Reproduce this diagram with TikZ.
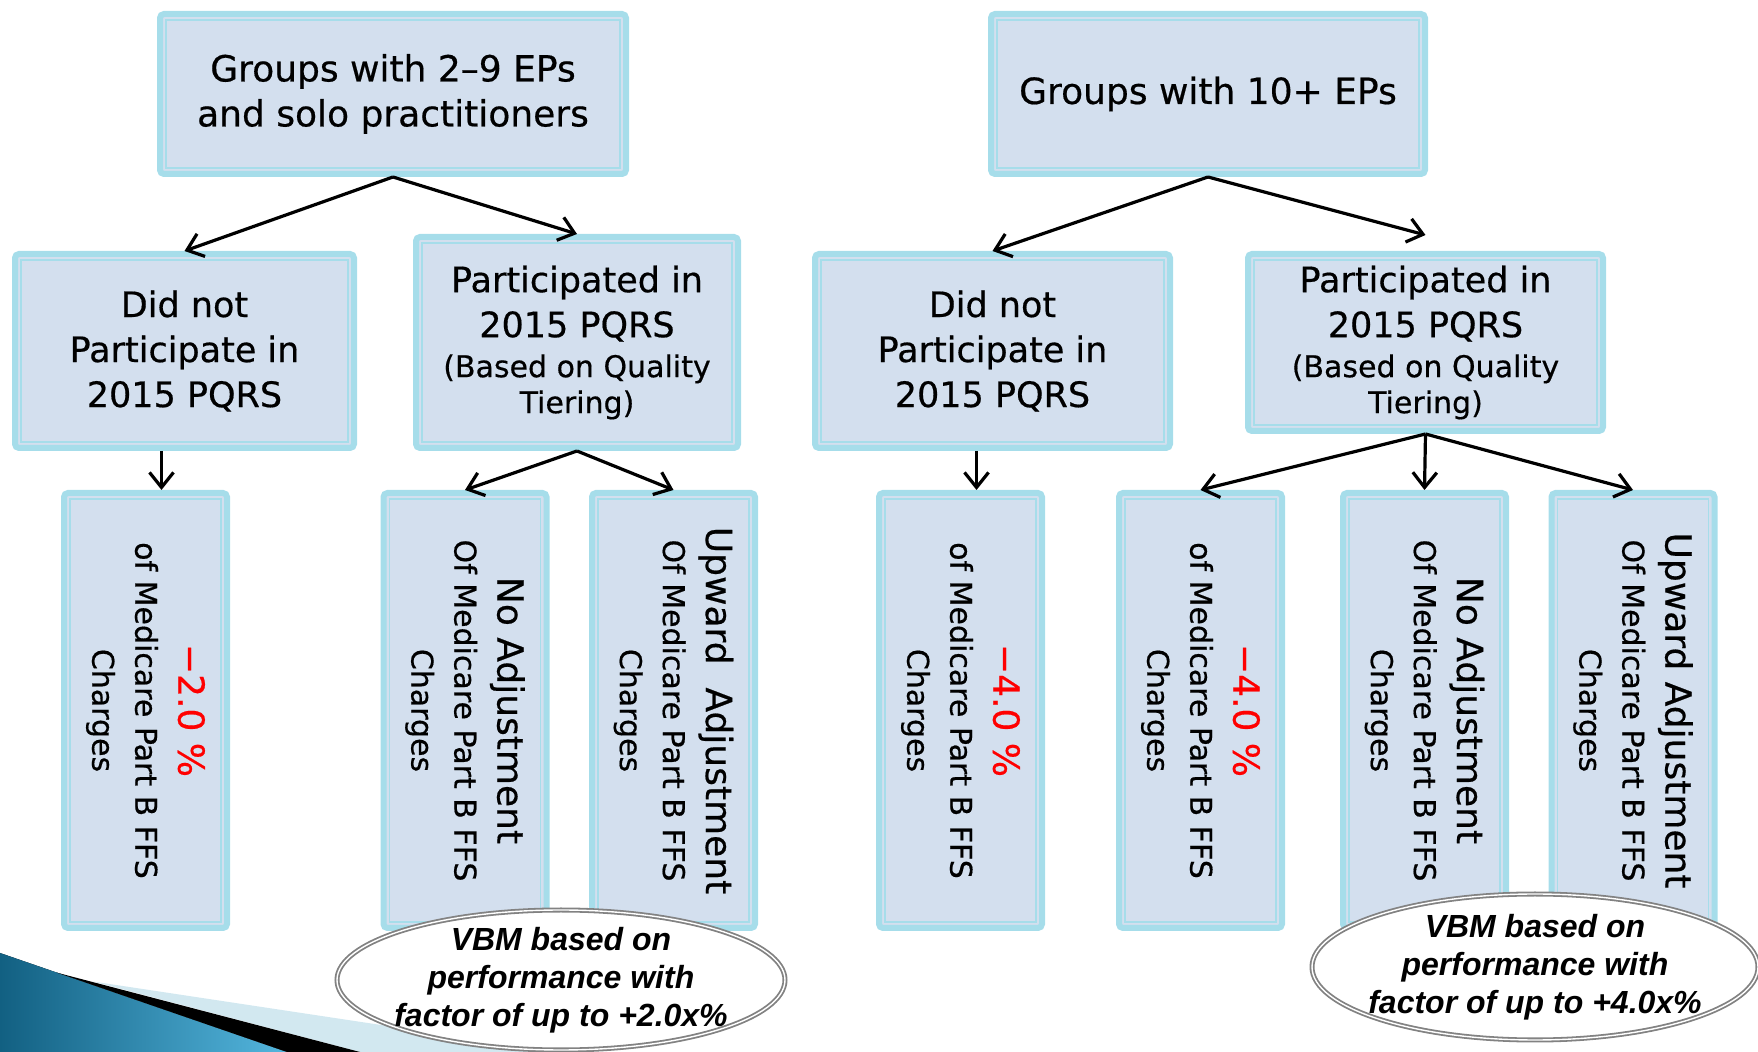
\documentclass[tikz,border=0pt]{standalone}
\usepackage{fontspec}
\setmainfont[FakeBold=0.5]{DejaVu Sans}
\newfontfamily\vbmfont{Liberation Sans}
\usetikzlibrary{arrows.meta,shapes.geometric}

\definecolor{boxedge}{RGB}{166,221,234}
\definecolor{boxfill}{RGB}{211,223,238}
\definecolor{ringgray}{RGB}{130,130,130}
\definecolor{decodark}{RGB}{18,96,130}
\definecolor{decolight}{RGB}{84,182,222}
\definecolor{decopale}{RGB}{210,232,240}
\newcommand\bigline{\fontsize{18}{21.5}\selectfont}
\newcommand\smline{\fontsize{15}{19}\selectfont}

\begin{document}
\begin{tikzpicture}[x=0.5pt,y=-0.5pt,
  box/.style={draw=boxedge, line width=3pt, fill=boxfill, rounded corners=2pt,
    inner sep=0pt, align=center,
    path picture={\draw[boxedge, line width=0.8pt, sharp corners]
      ([shift={(3pt,3pt)}]path picture bounding box.south west) rectangle
      ([shift={(-3pt,-3pt)}]path picture bounding box.north east);}},
  topbox/.style={box, font=\fontsize{18}{22.5}\selectfont},
  midbox/.style={box, font=\fontsize{17.5}{22.5}\selectfont},
  endbox/.style={box, minimum width=81.5pt, minimum height=217.5pt},
  endtext/.style={rotate=-90, align=center, font=\fontsize{15}{21.5}\selectfont},
  vbm/.style={ellipse, draw=ringgray, double=white, double distance=0.7pt,
    line width=0.9pt, fill=white, inner xsep=-12pt, inner ysep=-9pt, align=center,
    font=\vbmfont\bfseries\itshape\fontsize{16}{19}\selectfont},
  arr/.style={-{Straight Barb[length=7.5pt,width=12pt]}, line width=1.6pt}]
  \useasboundingbox (0,0) rectangle (1758,1052);
  % corner decoration
  \fill[left color=decodark, right color=decolight] (0,953) -- (287,1052) -- (0,1052) -- cycle;
  \fill[decopale] (93,981.5) -- (560,1052) -- (360,1052) -- cycle;
  \fill[black] (57,972.7) -- (360,1052) -- (287,1052) -- cycle;

  \node[topbox, minimum width=233pt, minimum height=80pt] (gs) at (393,94)
    {Groups with 2--9 EPs\\and solo practitioners};
  \node[topbox, minimum width=217pt, minimum height=80pt] (gl) at (1208,94)
    {Groups with 10+ EPs};

  \node[midbox, minimum width=169.5pt, minimum height=97pt] (ns) at (184.5,351)
    {Did not\\Participate in\\2015 PQRS};
  \node[midbox, minimum width=161pt, minimum height=105.5pt] (ps) at (577,342.5)
    {Participated in\\2015 PQRS\\[-2.5pt]\smline (Based on Quality\\[-4.5pt]\smline Tiering)};
  \node[midbox, minimum width=177.5pt, minimum height=97pt] (nl) at (992.5,351)
    {Did not\\Participate in\\2015 PQRS};
  \node[midbox, minimum width=177.5pt, minimum height=88.5pt] (pl) at (1425.5,342.5)
    {Participated in\\2015 PQRS\\[-2.5pt]\smline (Based on Quality\\[-4.5pt]\smline Tiering)};

  \foreach \n/\x in {cuts/145.5, noads/465, ups/673.5, cutl/960.5, cutlb/1200.5,
      noadl/1424.5, upl/1633}
    \node[endbox] (\n) at (\x,710.5) {};
  \node[endtext] (cutst) at (cuts) {\bigline\color{red}−2.0 \%\\of Medicare Part B FFS\\Charges};
  \node[endtext] (noadst) at (noads) {\bigline No Adjustment\\Of Medicare Part B FFS\\Charges};
  \node[endtext] (upst) at (ups) {\bigline Upward\ \ Adjustment\\Of Medicare Part B FFS\\Charges};
  \node[endtext] (cutlt) at (cutl) {\bigline\color{red}−4.0 \%\\of Medicare Part B FFS\\Charges};
  \node[endtext] (cutlbt) at (cutlb) {\bigline\color{red}−4.0 \%\\of Medicare Part B FFS\\Charges};
  \node[endtext] (noadlt) at (noadl) {\bigline No Adjustment\\Of Medicare Part B FFS\\Charges};
  \node[endtext] (uplt) at (upl) {\bigline Upward Adjustment\\Of Medicare Part B FFS\\Charges};

  \node[vbm, minimum width=224pt, minimum height=70pt] (vbms) at (561,980)
    {VBM based on\\performance with\\factor of up to +2.0x\%};
  \node[vbm, minimum width=223pt, minimum height=73pt] (vbml) at (1535,967)
    {VBM based on\\performance with\\factor of up to +4.0x\%};

  \draw[arr] (gs.south) -- (ns.north);
  \draw[arr] (gs.south) -- (ps.north);
  \draw[arr] (gl.south) -- (nl.north);
  \draw[arr] (gl.south) -- ([yshift=8pt]pl.north);
  \draw[arr] (ps.south) -- (noads.north);
  \draw[arr] (ps.south) -- (ups.north);
  \draw[arr] (pl.south) -- (cutlb.north);
  \draw[arr] (pl.south) -- (noadl.north);
  \draw[arr] (pl.south) -- (upl.north);
  \coordinate (ds) at ([xshift=8pt]cuts.north);
  \coordinate (dl) at ([xshift=8pt]cutl.north);
  \draw[arr] (ns.south -| ds) -- (ds);
  \draw[arr] (nl.south -| dl) -- (dl);
\end{tikzpicture}
\end{document}
